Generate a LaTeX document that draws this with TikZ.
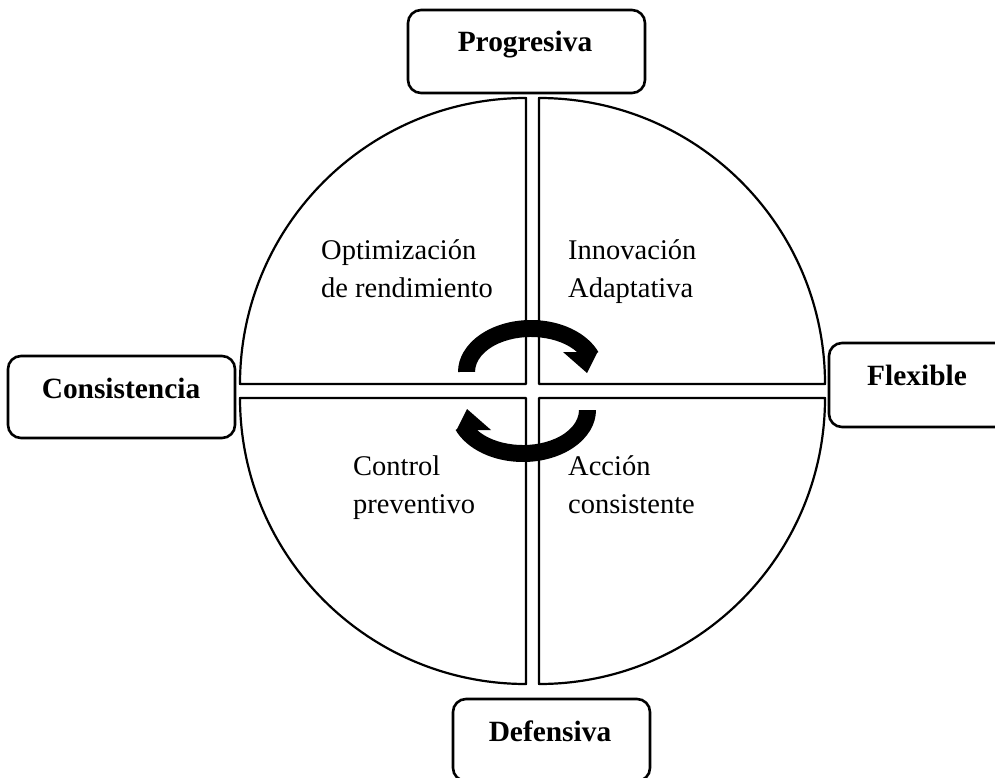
\documentclass[tikz,border=0pt]{standalone}
\usepackage{fontspec}
\setmainfont{Liberation Serif}
\begin{document}
\begin{tikzpicture}[x=1pt,y=1pt,
  quad/.style={draw=black, line width=2.2pt, line join=round},
  labelbox/.style={draw=black, line width=2.6pt, rounded corners=13pt, inner sep=0pt},
  boxtext/.style={font=\bfseries\fontsize{29.4}{36}\selectfont, anchor=base, inner sep=0pt},
  quadtext/.style={font=\fontsize{28.5}{38}\selectfont, anchor=base west, align=left, inner sep=0pt},
  cycarrow/.style={fill=black}]
\useasboundingbox (0,0) rectangle (995,-778);
\clip (0,0) rectangle (995,-778);

% quadrants
\draw[quad] (526,-384) -- (240,-384) arc[start angle=180, end angle=90, radius=286pt] -- cycle;
\draw[quad] (539,-384) -- (539,-98) arc[start angle=90, end angle=0, radius=286pt] -- cycle;
\draw[quad] (526,-398) -- (240,-398) arc[start angle=180, end angle=270, radius=286pt] -- cycle;
\draw[quad] (539,-398) -- (825,-398) arc[start angle=0, end angle=-90, radius=286pt] -- cycle;

% label boxes
\node[labelbox, minimum width=237pt, minimum height=83pt] (progbox) at (526.5,-51.5) {};
\node[labelbox, minimum width=227pt, minimum height=82pt] (consbox) at (121.5,-397) {};
\node[labelbox, minimum width=237pt, minimum height=84pt] (flexbox) at (947.5,-385) {};
\node[labelbox, minimum width=197pt, minimum height=82pt] (defbox) at (551.5,-740) {};

\node[boxtext] (prog) at (525,-52) {Progresiva};
\node[boxtext] (cons) at (121,-398) {Consistencia};
\node[boxtext] (flex) at (917,-385) {Flexible};
\node[boxtext] (def) at (550,-741) {Defensiva};

% quadrant texts (anchor = baseline of last line)
\node[quadtext] (opt) at (321,-297) {Optimización\\de rendimiento};
\node[quadtext] (inn) at (568,-297) {Innovación\\Adaptativa};
\node[quadtext] (ctl) at (353,-513) {Control\\preventivo};
\node[quadtext] (acc) at (568,-513) {Acción\\consistente};

% cycle arrows
\fill[cycarrow] (458,-372) arc[start angle=180, end angle=22.6, x radius=73pt, y radius=52pt]
  -- (597,-353) -- (587,-373) -- (563,-352) -- (577,-352)
  arc[start angle=34.8, end angle=180, x radius=56pt, y radius=35pt] -- cycle;
\begin{scope}[rotate around={180:(527,-391)}]
\fill[cycarrow] (458,-372) arc[start angle=180, end angle=22.6, x radius=73pt, y radius=52pt]
  -- (597,-353) -- (587,-373) -- (563,-352) -- (577,-352)
  arc[start angle=34.8, end angle=180, x radius=56pt, y radius=35pt] -- cycle;
\end{scope}
\end{tikzpicture}
\end{document}
